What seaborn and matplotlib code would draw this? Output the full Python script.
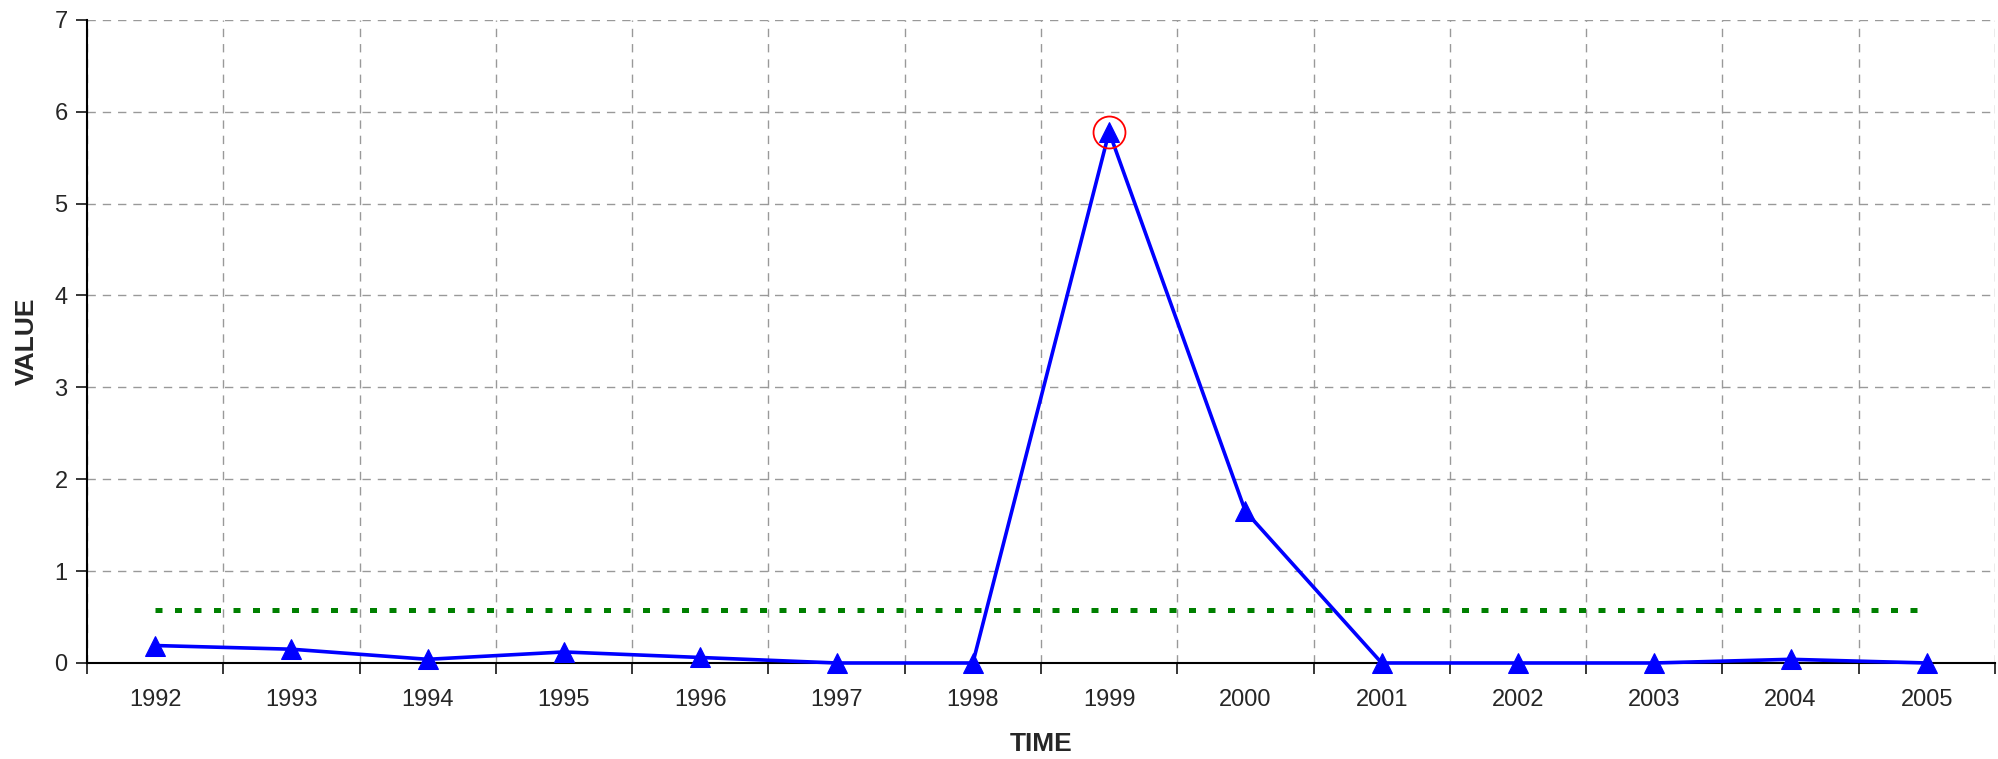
import numpy as np
import pandas as pd
import seaborn as sns
import matplotlib.pyplot as plt
from matplotlib.ticker import FixedLocator

years = [1992, 1993, 1994, 1995, 1996, 1997, 1998, 1999, 2000, 2001, 2002, 2003, 2004, 2005]
values = [0.19, 0.15, 0.04, 0.12, 0.06, 0.0, 0.0, 5.78, 1.65, 0.0, 0.0, 0.0, 0.04, 0.0]
mean_level = 0.58
peak_year = 1999

sns.set_style("white")
plt.rcParams['font.family'] = ['Liberation Sans', 'DejaVu Sans']

df = pd.DataFrame({"pos": np.arange(len(years)), "year": years, "value": values})

fig = plt.figure(figsize=(19.99, 7.59), dpi=100)
ax = fig.add_axes([0.0435, 0.1265, 0.9545, 0.8475])

# threshold line across the category centres
ax.plot([df["pos"].iloc[0], df["pos"].iloc[-1]], [mean_level, mean_level],
        color="#008000", lw=3.6, dashes=(1.4, 2.5), dash_capstyle="butt", zorder=2)

sns.lineplot(data=df, x="pos", y="value", color="#0000ff", lw=2.6,
             marker="^", markersize=14, markeredgecolor="#0000ff",
             ax=ax, zorder=3, clip_on=False)

# circle the peak
pk = df[df["year"] == peak_year]
ax.plot(pk["pos"], pk["value"], marker="o", ms=23, mfc="none", mec="red",
        mew=1.3, ls="none", zorder=4, clip_on=False)

ax.set_xlim(-0.5, len(years) - 0.5)
ax.set_ylim(0, 7)
ax.set_yticks(range(0, 8))
ax.set_xticks(df["pos"])
ax.set_xticklabels(years)
ax.xaxis.set_minor_locator(FixedLocator(np.arange(-0.5, len(years), 1)))
ax.tick_params(axis="x", which="major", length=0, pad=19, labelsize=17)
ax.tick_params(axis="x", which="minor", length=8, width=1.3, direction="out", bottom=True)
ax.tick_params(axis="y", length=8, width=1.3, direction="out", left=True, labelsize=17, pad=6)

ax.grid(False)
ax.yaxis.grid(True, color="#999999", ls=(0, (6, 5)), lw=1)
ax.xaxis.grid(True, which="minor", color="#999999", ls=(0, (6, 5)), lw=1)
ax.set_axisbelow(True)

for s in ["top", "right"]:
    ax.spines[s].set_visible(False)
for s in ["left", "bottom"]:
    ax.spines[s].set_color("black")
    ax.spines[s].set_linewidth(1.5)

ax.set_xlabel("TIME", fontweight="bold", fontsize=19, labelpad=15)
ax.set_ylabel("VALUE", fontweight="bold", fontsize=19, labelpad=11)

fig.savefig("out.png", dpi=100)
